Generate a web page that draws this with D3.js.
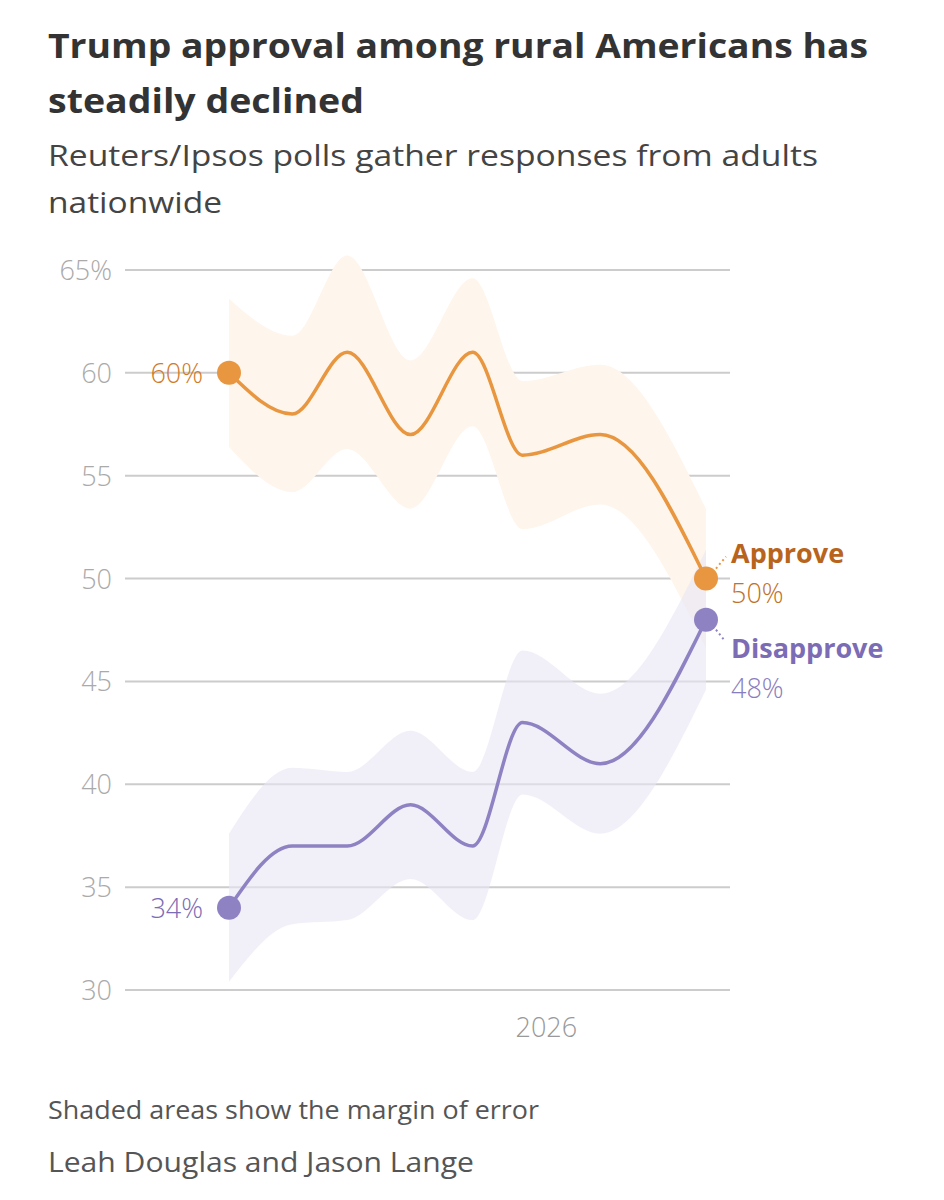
<!DOCTYPE html>
<html><head><meta charset="utf-8">
<script src="https://cdn.jsdelivr.net/npm/d3@7"></script>
<style>body{margin:0;background:#fff;}</style>
</head><body><svg id="c" width="944" height="1200"></svg>
<script>
const dates=["2025-03-01","2025-05-01","2025-06-23","2025-08-23","2025-10-22","2025-12-09","2026-02-22","2026-06-04"];
const approve=[60,58,61,57,61,56,57,50];
const approveMoe=[3.6,3.8,4.7,3.6,3.6,3.6,3.4,3.4];
const disapprove=[34,37,37,39,37,43,41,48];
const disapproveMoe=[3.6,3.8,3.6,3.6,3.6,3.5,3.4,3.4];
const yTicks=[30,35,40,45,50,55,60,65];
const svg=d3.select("#c");
const pd=d3.timeParse("%Y-%m-%d");
const D=dates.map(pd);
const x=d3.scaleTime().domain([D[0],D[7]]).range([229,706]);
const y=d3.scaleLinear().domain([30,65]).range([990,270]);
const font='"Open Sans", "Noto Sans", sans-serif';
const tt=(xx,yy,s,size,c,w,anchor,len)=>{const e=svg.append("text").attr("x",xx).attr("y",yy).attr("font-family",font).attr("font-size",size).attr("font-weight",w||400).attr("fill",c).attr("text-anchor",anchor||"start").text(s); if(len) e.attr("textLength",len).attr("lengthAdjust","spacingAndGlyphs"); return e;};
tt(48,58,"Trump approval among rural Americans has",34,"#333",700,null,820);
tt(48,113,"steadily declined",34,"#333",700,null,316);
tt(48,166,"Reuters/Ipsos polls gather responses from adults",29,"#444",400,null,770);
tt(48,213,"nationwide",29,"#444",400,null,174);
yTicks.forEach(t=>{
 svg.append("line").attr("x1",125).attr("x2",730).attr("y1",y(t)).attr("y2",y(t)).attr("stroke","#ccc").attr("stroke-width",2);
 tt(112,y(t)+10,t===65?"65%":t,27,"#aaa",300,"end");
});
tt(x(pd("2026-01-01")),1037,"2026",27,"#999",300,"middle");
const cur=d3.curveMonotoneX;
function series(vals,moe,band){
 const pts=vals.map((v,i)=>({d:D[i],v,m:moe[i]}));
 svg.append("path").datum(pts).attr("fill",band).attr("d",d3.area().curve(cur).x(p=>x(p.d)).y0(p=>y(p.v-p.m)).y1(p=>y(p.v+p.m)));
 return pts;
}
const a=series(approve,approveMoe,"#fef5ec");
const d=series(disapprove,disapproveMoe,"rgba(232,230,245,0.6)");
[[a,"#e8963f"],[d,"#8f82c2"]].forEach(([pts,c])=>{
 svg.append("path").datum(pts).attr("fill","none").attr("stroke",c).attr("stroke-width",3.5).attr("d",d3.line().curve(cur).x(p=>x(p.d)).y(p=>y(p.v)));
 [pts[0],pts[7]].forEach(p=>svg.append("circle").attr("cx",x(p.d)).attr("cy",y(p.v)).attr("r",12).attr("fill",c));
});
tt(203,y(60)+10,"60%",27,"#d07a2a",300,"end");
tt(203,y(34)+10,"34%",27,"#7b6cb5",300,"end");
tt(731,y(50)-16,"Approve",27,"#b8641d",700);
tt(731,y(50)+24,"50%",27,"#c0712a",300);
tt(731,y(48)+38,"Disapprove",27,"#7b6cb5",700);
tt(731,y(48)+78,"48%",27,"#8a7dbd",300);
svg.append("line").attr("x1",716).attr("y1",y(50)-10).attr("x2",726).attr("y2",y(50)-22).attr("stroke","#e8963f").attr("stroke-width",2).attr("stroke-dasharray","2,3");
svg.append("line").attr("x1",716).attr("y1",y(48)+10).attr("x2",724).attr("y2",y(48)+20).attr("stroke","#8f82c2").attr("stroke-width",2).attr("stroke-dasharray","2,3");
tt(48,1119,"Shaded areas show the margin of error",25,"#555",400,null,491);
tt(48,1172,"Leah Douglas and Jason Lange",27,"#555",400,null,426);
</script></body></html>
